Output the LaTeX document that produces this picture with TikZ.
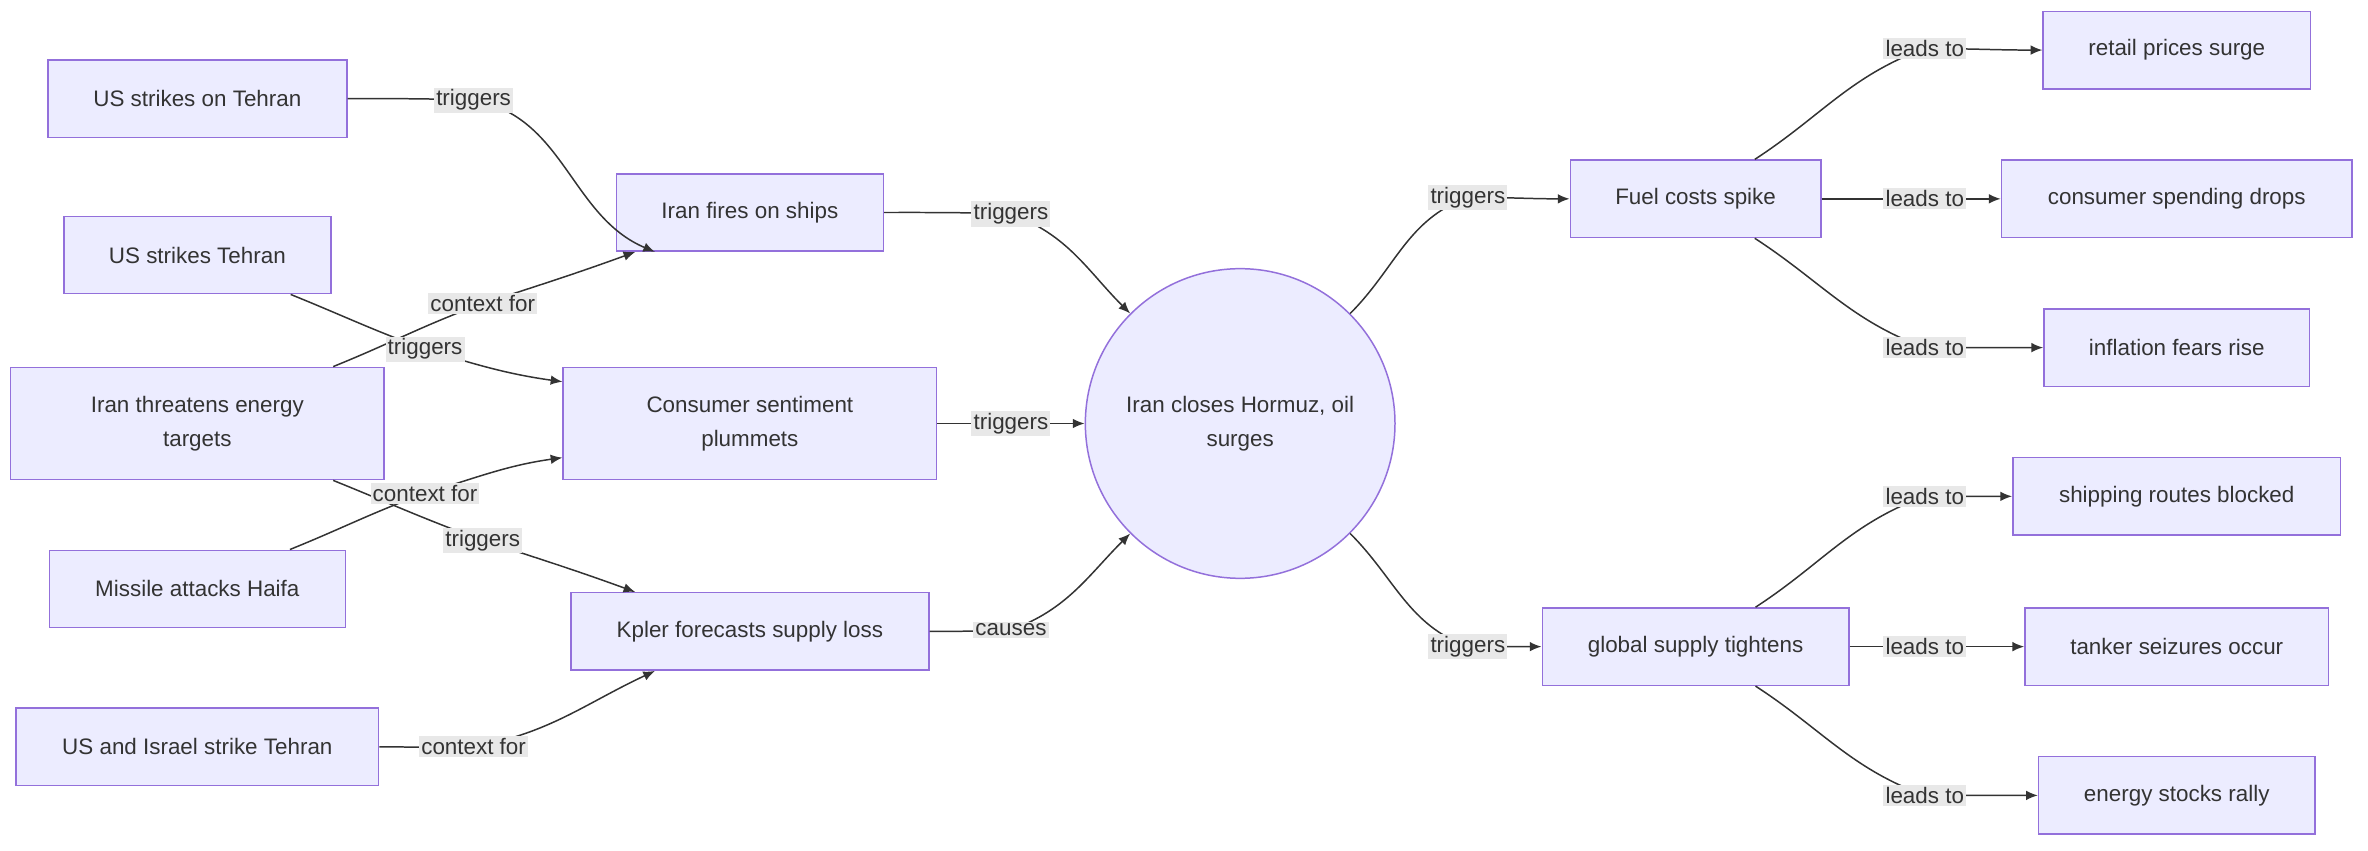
\documentclass[tikz,border=0pt]{standalone}
\usepackage{fontspec}
\setmainfont{Liberation Sans}
\usetikzlibrary{arrows.meta,calc}
\definecolor{nfill}{HTML}{ECECFF}
\definecolor{nline}{HTML}{9370DB}
\definecolor{txt}{HTML}{333333}
\definecolor{lbg}{HTML}{E8E8E8}
\begin{document}
\begin{tikzpicture}[x=0.05cm,y=0.05cm,
  font=\fontsize{21}{32}\selectfont, text=txt,
  box/.style 2 args={draw=nline,fill=nfill,line width=1.4pt,inner sep=0pt,align=center,
     minimum width=#1*0.05cm,minimum height=#2*0.05cm},
  e/.style={draw=txt,line width=1.4pt,-{Latex[length=11pt,width=9pt]}},
  lab/.style={fill=lbg,inner sep=2pt,text=txt}]
\useasboundingbox (0,0) rectangle (1560,560);
% nodes
\node[box={197}{51}] (uson) at (130,495) {US strikes on Tehran};
\node[box={176}{51}] (fires) at (494,420) {Iran fires on ships};
\node[box={176}{51}] (ust) at (130,392) {US strikes Tehran};
\node[box={246}{74}] (threat) at (130,281) {Iran threatens energy\\targets};
\node[box={246}{74}] (cons) at (494,281) {Consumer sentiment\\plummets};
\node[box={195}{51}] (haifa) at (130,172) {Missile attacks Haifa};
\node[box={236}{51}] (kpler) at (494,144) {Kpler forecasts supply loss};
\node[box={239}{51}] (usis) at (130,68) {US and Israel strike Tehran};
\node[box={204}{204},circle] (hormuz) at (817,281) {Iran closes Hormuz, oil\\surges};
\node[box={165}{51}] (fuel) at (1117,429) {Fuel costs spike};
\node[box={202}{51}] (glob) at (1117,134) {global supply tightens};
\node[box={176}{51}] (retail) at (1434,527) {retail prices surge};
\node[box={231}{51}] (spend) at (1434,429) {consumer spending drops};
\node[box={175}{51}] (infl) at (1434,331) {inflation fears rise};
\node[box={216}{51}] (ship) at (1434,233) {shipping routes blocked};
\node[box={200}{51}] (tank) at (1434,134) {tanker seizures occur};
\node[box={182}{51}] (enrg) at (1434,36) {energy stocks rally};
% label positions
\coordinate (c1) at (312,494);
\coordinate (c2) at (666,419);
\coordinate (c3) at (280,330);
\coordinate (c4) at (318,360);
\coordinate (c5) at (318,204);
\coordinate (c6) at (280,235);
\coordinate (c7) at (666,281);
\coordinate (c8) at (666,145);
\coordinate (c9) at (312,68);
\coordinate (c10) at (967,430);
\coordinate (c11) at (967,134);
\coordinate (c12) at (1268,528);
\coordinate (c13) at (1268,429);
\coordinate (c14) at (1268,331);
\coordinate (c15) at (1268,233);
\coordinate (c16) at (1268,134);
\coordinate (c17) at (1268,36);
% edges
\draw[e] (uson.east) to[out=0,in=178] (c1) to[out=-10,in=157] ($(fires.south west)+(26,0)$);
\draw[e] (fires.east) to[out=0,in=178] (c2) to[out=-20,in=135] (hormuz.135);
\draw[e] ($(ust.south west)+(150,0)$) to[out=-22,in=160] (c3) to[out=-17,in=172] ($(cons.north west)+(0,-10)$);
\draw[e] ($(threat.north west)+(213,0)$) to[out=22,in=200] (c4) to[out=18,in=200] ($(fires.south west)+(13,0)$);
\draw[e] ($(threat.south west)+(213,0)$) to[out=-22,in=160] (c5) to[out=-18,in=160] ($(kpler.north west)+(43,0)$);
\draw[e] ($(haifa.north west)+(159,0)$) to[out=22,in=200] (c6) to[out=17,in=188] ($(cons.south west)+(0,15)$);
\draw[e] (cons.east) -- (c7) -- (hormuz.west);
\draw[e] (kpler.east) to[out=0,in=182] (c8) to[out=20,in=225] (hormuz.225);
\draw[e] (usis.east) to[out=0,in=182] (c9) to[out=10,in=205] ($(kpler.south west)+(56,0)$);
\draw[e] (hormuz.45) to[out=45,in=200] (c10) to[out=0,in=180] (fuel.west);
\draw[e] (hormuz.-45) to[out=-45,in=160] (c11) to[out=0,in=180] (glob.west);
\draw[e] ($(fuel.north west)+(122,0)$) to[out=33,in=200] (c12) to[out=0,in=180] (retail.west);
\draw[e] (fuel.east) -- (c13) -- (spend.west);
\draw[e] ($(fuel.south west)+(122,0)$) to[out=-33,in=160] (c14) to[out=0,in=180] (infl.west);
\draw[e] ($(glob.north west)+(141,0)$) to[out=33,in=200] (c15) to[out=0,in=180] (ship.west);
\draw[e] (glob.east) -- (c16) -- (tank.west);
\draw[e] ($(glob.south west)+(141,0)$) to[out=-33,in=160] (c17) to[out=0,in=180] (enrg.west);
% labels
\node[lab] (l1) at (c1) {triggers};
\node[lab] (l2) at (c2) {triggers};
\node[lab] (l3) at (c3) {triggers};
\node[lab] (l4) at (c4) {context for};
\node[lab] (l5) at (c5) {triggers};
\node[lab] (l6) at (c6) {context for};
\node[lab] (l7) at (c7) {triggers};
\node[lab] (l8) at (c8) {causes};
\node[lab] (l9) at (c9) {context for};
\node[lab] (l10) at (c10) {triggers};
\node[lab] (l11) at (c11) {triggers};
\node[lab] (l12) at (c12) {leads to};
\node[lab] (l13) at (c13) {leads to};
\node[lab] (l14) at (c14) {leads to};
\node[lab] (l15) at (c15) {leads to};
\node[lab] (l16) at (c16) {leads to};
\node[lab] (l17) at (c17) {leads to};
\end{tikzpicture}
\end{document}
